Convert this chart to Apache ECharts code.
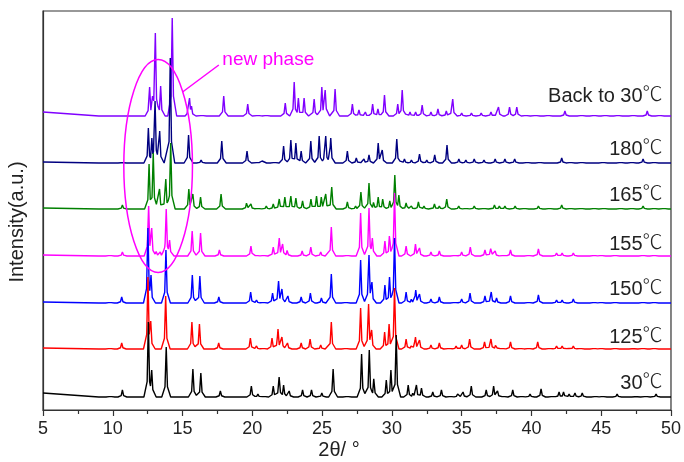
<!DOCTYPE html>
<html>
<head>
<meta charset="utf-8">
<script src="https://cdn.jsdelivr.net/npm/echarts@6/dist/echarts.min.js"></script>
<style>html,body{margin:0;padding:0;background:#fff;}#c{width:684px;height:462px;}</style>
</head>
<body>
<div id="c"></div>
<script>
// ---- data ----
const xTicks = [5, 10, 15, 20, 25, 30, 35, 40, 45, 50];
const seriesNames = ['30℃', '125℃', '150℃', '155℃', '165℃', '180℃', 'Back to 30℃'];
const seriesColors = ['#000000', '#ff0000', '#0000ff', '#ff00ff', '#008000', '#000080', '#8000ff'];
const baselines = [13, 61, 107, 154, 201, 247, 294];
const labelY = [27, 73, 121, 166, 215, 261, 314];
const lowAngleLift = [4, 1, 1, 1, 1, 1, 4];

// peaks: [2theta, height above baseline]
const peaks30 = [[9.83,2],[10.69,7],[12.55,75],[12.79,27],[13.83,50],[15.74,28],[16.31,24],[17.71,6],[19.93,11],[20.4,3],[20.85,2],[21.5,11],[21.93,22],[22.24,12],[22.64,6],[23.6,7],[24.24,7],[24.98,4],[25.79,28],[26.8,2],[27.83,43],[28.38,47],[28.71,20],[29.6,17],[29.93,27],[30.31,62],[31.17,12],[31.5,4],[31.76,12],[32.12,9],[32.93,5],[33.55,7],[34.2,2],[34.71,3],[35.1,5],[35.69,11],[36.76,7],[37.29,11],[37.57,6],[38.0,2],[38.66,7],[39.3,2],[39.9,3],[40.69,8],[41.5,2],[41.98,5],[42.3,5],[42.7,3],[43.12,4],[43.64,4],[44.6,2],[45.1,2],[46.14,3],[47.5,1],[48.2,2],[48.93,3]];
const peaks125 = [[9.8,2],[10.64,6],[12.52,72],[12.72,28],[13.79,53],[15.67,27],[16.21,25],[17.59,6],[19.86,11],[20.3,3],[20.8,2],[21.41,11],[21.84,20],[22.12,12],[22.52,6],[23.5,6],[24.14,10],[24.9,4],[25.66,27],[26.7,2],[27.76,41],[28.33,45],[28.55,19],[29.48,17],[29.8,25],[30.19,61],[31.02,10],[31.4,4],[31.69,12],[31.98,9],[32.8,4],[33.4,6],[34.1,2],[34.6,3],[35.0,4],[35.57,10],[36.64,7],[37.1,10],[37.45,5],[37.9,2],[38.5,7],[39.2,2],[39.8,2],[40.45,7],[41.3,2],[41.8,3],[42.2,3],[42.6,2],[43.0,3],[43.5,2],[44.5,2],[45.0,2],[46.0,2],[47.3,1],[48.0,2],[48.8,2]];
const peaks150 = [[9.8,2],[10.64,6],[12.52,75],[12.74,28],[13.81,53],[15.7,28],[16.24,27],[17.6,6],[19.88,11],[20.3,3],[20.8,2],[21.45,10],[21.88,22],[22.12,14],[22.55,7],[23.5,6],[24.16,10],[24.95,5],[25.66,29],[26.7,2],[27.76,43],[28.36,48],[28.57,21],[29.5,18],[29.83,26],[30.19,65],[31.02,11],[31.4,4],[31.71,13],[31.98,9],[32.8,4],[33.4,6],[34.5,2],[35.0,4],[35.6,10],[36.67,7],[37.12,11],[37.5,5],[38.5,7],[39.8,2],[40.5,8],[41.8,3],[42.2,3],[43.0,4],[44.5,2],[45.0,2],[46.0,2],[48.0,2],[48.8,2]];
const peaks155 = [[9.8,2],[10.69,4],[12.57,50],[12.79,28],[13.12,5],[13.4,4],[13.83,47],[14.07,16],[15.69,25],[16.29,23],[17.64,6],[19.9,10],[20.3,2],[20.8,2],[21.5,9],[21.93,18],[22.17,12],[22.5,6],[23.57,5],[24.19,9],[24.9,4],[25.66,29],[26.8,2],[27.76,43],[28.36,48],[28.6,18],[29.5,15],[29.83,22],[30.19,63],[31.02,10],[31.69,12],[31.98,8],[32.8,4],[33.4,5],[34.5,2],[35.0,4],[35.62,9],[36.67,6],[37.1,9],[37.4,5],[38.0,2],[38.5,6],[39.8,2],[40.5,7],[41.8,3],[42.2,3],[43.0,3],[44.5,2],[45.0,2],[46.0,2],[48.0,2],[48.8,2]];
const peaks165 = [[10.69,4],[12.6,45],[12.9,56],[13.35,20],[13.8,30],[14.15,66],[15.45,20],[15.74,15],[16.29,12],[17.76,15],[19.6,7],[19.9,5],[20.4,2],[21.0,3],[21.5,5],[21.93,10],[22.33,12],[22.76,13],[23.12,11],[23.6,8],[24.2,10],[24.6,13],[24.95,13],[25.26,15],[25.69,22],[26.81,7],[27.4,3],[27.78,17],[28.36,26],[28.7,8],[29.02,12],[29.35,11],[29.85,8],[30.21,34],[30.5,14],[31.02,6],[31.4,3],[31.9,7],[32.3,3],[33.05,5],[33.4,3],[33.93,10],[34.79,3],[35.3,2],[35.9,3],[36.6,2],[37.35,4],[37.7,3],[38.1,3],[38.83,3],[39.5,2],[40.5,3],[41.3,2],[42.17,4],[42.8,2],[43.57,2],[44.5,2],[45.2,2],[46.4,2],[47.2,2],[48.0,3],[48.8,2],[49.5,2]];
const peaks180 = [[10.69,1.5],[12.55,35],[12.8,25],[13.03,62],[13.36,32],[14.12,105],[15.43,28],[16.33,3],[17.81,22],[19.62,12],[20.4,2],[20.7,2],[21.6,2],[22.24,17],[22.76,23],[23.12,20],[23.5,12],[24.19,22],[24.79,27],[25.26,27],[25.62,25],[26.81,12],[27.45,5],[28.0,4],[28.36,8],[29.02,20],[29.31,13],[30.35,24],[30.9,4],[31.4,3],[31.98,9],[32.5,3],[33.07,8],[33.95,18],[34.8,4],[35.3,3],[35.9,4],[36.6,3],[37.4,4],[38.1,4],[38.8,4],[39.7,2],[40.6,2],[42.17,5],[42.8,2],[43.6,2],[45.14,2],[46.4,2],[47.2,2],[48.0,4],[48.8,2]];
const peaksBack = [[12.64,29],[12.85,20],[13.05,83],[13.43,30],[14.26,98],[15.5,18],[15.64,10],[16.4,2],[17.95,20],[19.67,12],[20.4,2],[21.0,2],[22.36,13],[23.0,34],[23.3,18],[23.71,18],[24.43,17],[24.98,29],[25.22,26],[25.93,27],[27.17,12],[27.64,6],[28.1,4],[28.62,12],[29.0,7],[29.47,21],[30.42,12],[30.74,26],[31.3,4],[31.7,4],[32.17,11],[32.8,4],[33.3,7],[33.9,5],[34.36,17],[35.0,3],[35.7,3],[36.4,3],[37.1,4],[37.64,9],[38.43,9],[38.95,9],[39.6,2],[40.3,2],[41.2,2],[42.4,5],[43.6,2],[44.5,2],[45.3,2],[46.2,2],[47.3,2],[48.3,5],[49.2,2]];
const allPeaks = [peaks30, peaks125, peaks150, peaks155, peaks165, peaks180, peaksBack];

// annotation (data coordinates)
const ellipseCenter = [13.25, 244];
const ellipseRadii = [2.46, 106.5];
const pointerLine = [[15.0, 318], [17.6, 345]];
const noteText = 'new phase';
const notePos = [17.85, 350];

// ---- build line vertices from the peak lists (narrow tip on a broader foot) ----
function buildTrace(peaks, base, lift) {
  const wTip = 0.11, wFoot = 0.32, footFrac = 0.28;
  const sorted = peaks.slice().sort((a, b) => a[0] - b[0]);
  const xs = [5, 9, 50];
  const dCross = (1 - footFrac) / (1 / wTip - footFrac / wFoot);
  sorted.forEach((p, i) => {
    xs.push(p[0] - wFoot, p[0] - dCross, p[0], p[0] + dCross, p[0] + wFoot);
    if (i < sorted.length - 1) xs.push((p[0] + sorted[i + 1][0]) / 2);
  });
  const uniq = Array.from(new Set(xs.map(v => +v.toFixed(4)))).filter(v => v >= 5 && v <= 50).sort((a, b) => a - b);
  return uniq.map(x => {
    let v = 0;
    sorted.forEach(p => {
      const d = Math.abs(x - p[0]);
      const t1 = p[1] * (1 - d / wTip);
      const t2 = p[1] * footFrac * (1 - d / wFoot);
      const t = Math.max(t1, t2);
      if (t > v) v = t;
    });
    const l = x < 9 ? lift * (9 - x) / 4 : 0;
    return [x, base + l + v];
  });
}

const chart = echarts.init(document.getElementById('c'), null, { renderer: 'canvas' });
const FONT = "'Liberation Sans', Arial, 'DejaVu Sans', sans-serif";
const CJK = "'Noto Sans CJK SC', 'Noto Sans CJK JP', sans-serif";

const series = [];
for (let i = allPeaks.length - 1; i >= 0; i--) {
  series.push({
    name: seriesNames[i],
    type: 'line',
    data: buildTrace(allPeaks[i], baselines[i], lowAngleLift[i]),
    showSymbol: false,
    symbol: 'none',
    lineStyle: { color: seriesColors[i], width: 1.4 },
    animation: false,
    z: 2 + (allPeaks.length - i)
  });
}

chart.setOption({
  animation: false,
  backgroundColor: '#ffffff',
  grid: { left: 43, right: 11, top: 11, bottom: 52, show: true, borderColor: '#333', borderWidth: 1.2, backgroundColor: 'transparent' },
  xAxis: {
    type: 'value', min: xTicks[0], max: xTicks[xTicks.length - 1], interval: 5,
    axisLine: { show: true, lineStyle: { color: '#333', width: 1.2 } },
    axisTick: { show: true, inside: false, length: 6, lineStyle: { color: '#333', width: 1.2 } },
    minorTick: { show: true, splitNumber: 2, length: 4, lineStyle: { color: '#333', width: 1.2 } },
    splitLine: { show: false },
    axisLabel: { color: '#222', fontSize: 18, fontFamily: FONT, margin: 10 }
  },
  yAxis: {
    type: 'value', min: 0, max: 399,
    axisLine: { show: true, lineStyle: { color: '#333', width: 1.2 } },
    axisTick: { show: false },
    axisLabel: { show: false },
    splitLine: { show: false }
  },
  series: series
});

function px(p) { return chart.convertToPixel({ gridIndex: 0 }, p); }
const c = px(ellipseCenter);
const ex = px([ellipseCenter[0] + ellipseRadii[0], ellipseCenter[1] + ellipseRadii[1]]);
const l0 = px(pointerLine[0]), l1 = px(pointerLine[1]);
const np = px(notePos);

const graphics = [
  { type: 'ellipse', z: 100, shape: { cx: c[0], cy: c[1], rx: Math.abs(ex[0] - c[0]), ry: Math.abs(ex[1] - c[1]) }, style: { fill: 'none', stroke: '#ff00ff', lineWidth: 1.5 } },
  { type: 'line', z: 100, shape: { x1: l0[0], y1: l0[1], x2: l1[0], y2: l1[1] }, style: { stroke: '#ff00ff', lineWidth: 1.5 } },
  { type: 'text', z: 100, x: np[0], y: np[1], style: { text: noteText, fill: '#ff00ff', font: '19px ' + FONT, textAlign: 'left', textVerticalAlign: 'middle' } },
  { type: 'text', z: 100, x: 339, y: 450, style: { text: '2θ/ °', fill: '#222', font: '20px ' + FONT, textAlign: 'center', textVerticalAlign: 'middle' } },
  { type: 'text', z: 100, x: 17, y: 222, rotation: Math.PI / 2, style: { text: 'Intensity(a.u.)', fill: '#222', font: '20px ' + FONT, textAlign: 'center', textVerticalAlign: 'middle' } }
];
for (let i = 0; i < seriesNames.length; i++) {
  const p = px([49.4, labelY[i]]);
  const name = seriesNames[i];
  const main = name.replace('℃', '');
  graphics.push({
    type: 'text', z: 100, x: p[0], y: p[1],
    style: {
      text: '{a|' + main + '}{b|℃}',
      rich: {
        a: { fontSize: 20, fontFamily: FONT, fill: '#222', color: '#222', lineHeight: 24, verticalAlign: 'middle' },
        b: { fontSize: 20, fontFamily: CJK, fill: '#222', color: '#222', fontWeight: 300, lineHeight: 24, verticalAlign: 'bottom', padding: [0, 0, 5, 0] }
      },
      textAlign: 'right', textVerticalAlign: 'middle'
    }
  });
}
chart.setOption({ graphic: graphics });
</script>
</body>
</html>
